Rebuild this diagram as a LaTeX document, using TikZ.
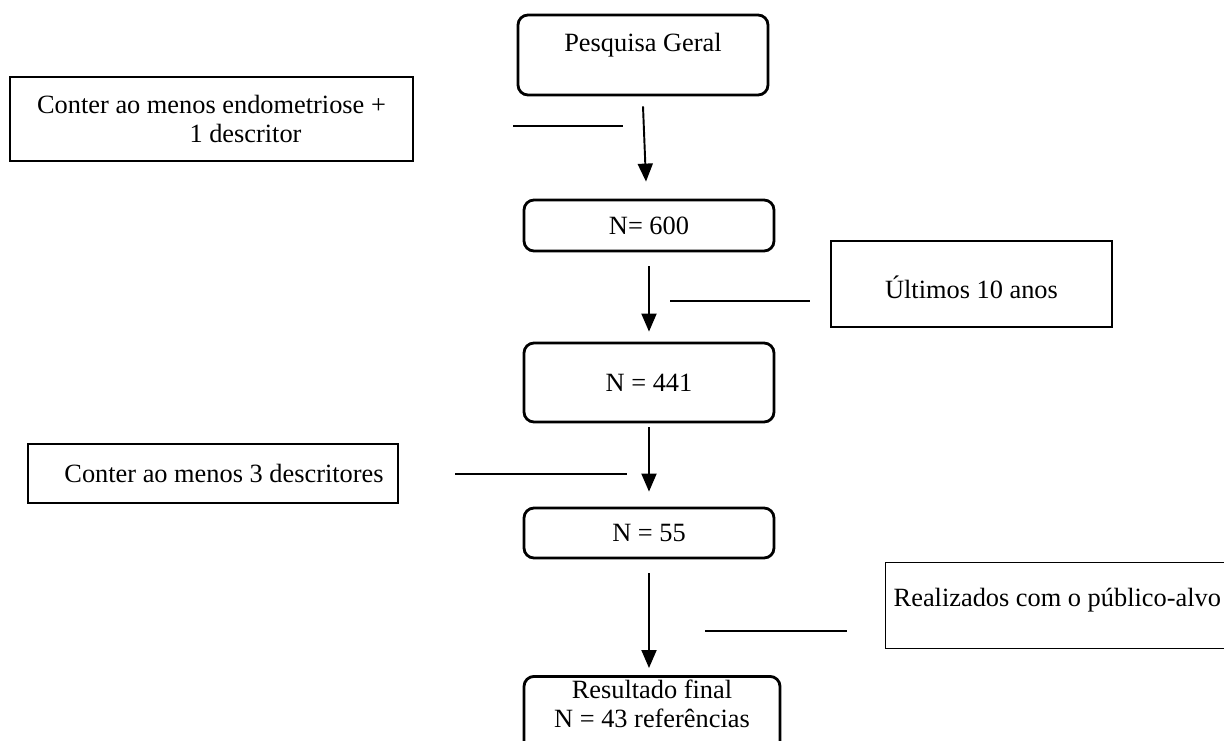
\documentclass[tikz,border=0pt]{standalone}
\usepackage{fontspec}
\setmainfont{Liberation Serif}
\usetikzlibrary{arrows.meta}

\begin{document}
\begin{tikzpicture}[font=\fontsize{15}{17}\selectfont,
    etapa/.style={draw, rounded corners=0.2cm, line width=1.6pt, minimum width=5cm, inner sep=0pt},
    criterio/.style={draw, line width=0.8pt, inner sep=0pt, align=center},
    seta/.style={-{Triangle[length=0.36cm,width=0.3cm]}, line width=1.1pt},
    traco/.style={line width=0.8pt}]
    \useasboundingbox (0,0) rectangle (24.48,-14.8);
    % coluna principal
    \node (pg) [etapa, minimum height=1.6cm, text height=11pt, text depth=14.6pt] at (12.86,-1.10) {Pesquisa Geral};
    \node (n600) [etapa, minimum height=1.02cm] at (12.98,-4.51) {N= 600};
    \node (n441) [etapa, minimum height=1.58cm] at (12.98,-7.65) {N = 441};
    \node (n55) [etapa, minimum height=1.0cm] at (12.98,-10.66) {N = 55};
    \node (res) [etapa, minimum width=5.12cm, anchor=north, align=center, inner ysep=0.08cm, text depth=1.3cm, font=\fontsize{15}{16}\selectfont] at (13.04,-13.5) {Resultado final\\N = 43 referências};
    % criterios
    \node (c1) [criterio, minimum width=8.06cm, minimum height=1.68cm] at (4.23,-2.38) {Conter ao menos endometriose +\\\hspace*{1.36cm}1 descritor};
    \node (c2) [criterio, minimum width=5.62cm, minimum height=1.72cm, text height=20pt, text depth=3.2pt] at (19.43,-5.68) {Últimos 10 anos};
    \node (c3) [criterio, minimum width=7.4cm, minimum height=1.18cm] at (4.26,-9.47) {\hspace*{0.44cm}Conter ao menos 3 descritores};
    \node (c4) [criterio, anchor=north west, inner xsep=0.16cm, minimum height=1.72cm, text height=10.5pt, text depth=9.5pt] at (17.70,-11.24) {\makebox[7.2cm][l]{Realizados com o público-alvo}};
    % tracos soltos
    \coordinate (h1a) at (10.26,-2.52);
    \coordinate (h1b) at (12.46,-2.52);
    \coordinate (h2a) at (13.40,-6.02);
    \coordinate (h2b) at (16.20,-6.02);
    \coordinate (h3a) at (9.10,-9.48);
    \coordinate (h3b) at (12.54,-9.48);
    \coordinate (h4a) at (14.10,-12.62);
    \coordinate (h4b) at (16.94,-12.62);
    \path[traco]
    (h1a) edge (h1b)
    (h2a) edge (h2b)
    (h3a) edge (h3b)
    (h4a) edge (h4b)
    ;
    \path[seta]
    ([yshift=-0.2cm]pg.south) edge ([xshift=-0.06cm,yshift=0.34cm]n600.north)
    ([yshift=-0.28cm]n600.south) edge ([yshift=0.2cm]n441.north)
    ([yshift=-0.08cm]n441.south) edge ([yshift=0.3cm]n55.north)
    ([yshift=-0.28cm]n55.south) edge ([yshift=0.14cm]n55.south |- res.north)
    ;
\end{tikzpicture}
\end{document}
